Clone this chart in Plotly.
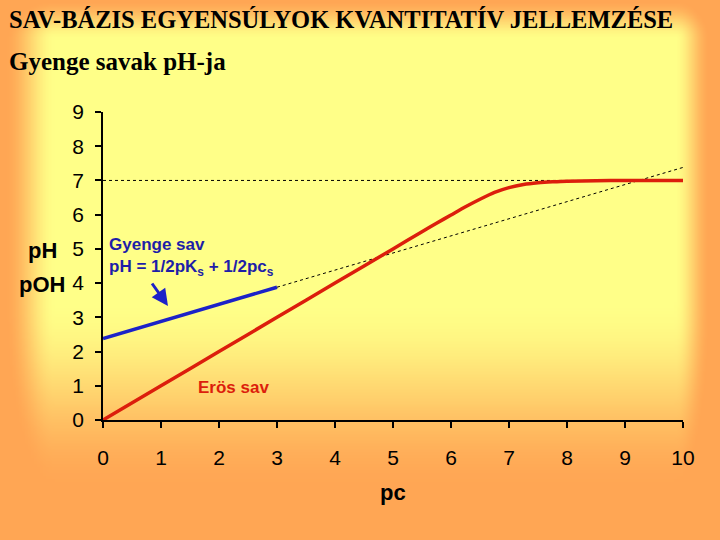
import base64, struct, zlib, math
import plotly.graph_objects as go

# ---------------- data ----------------
pc_strong = [0, 1, 2, 3, 4, 5, 5.5, 5.75, 6, 6.25, 6.5, 6.75, 7, 7.25, 7.5, 7.75, 8, 8.5, 9, 9.5, 10]
ph_strong = [0, 1, 2, 3, 4, 5, 5.5, 5.75, 5.99, 6.23, 6.45, 6.65, 6.79, 6.88, 6.93, 6.96, 6.98, 6.99, 7.0, 7.0, 7.0]

pc_weak = [0, 3]
ph_weak = [2.38, 3.88]

pc_weak_ext = [3, 10]
ph_weak_ext = [3.88, 7.38]

pc_neutral = [0, 10]
ph_neutral = [7, 7]

x_ticks = list(range(0, 11))
y_ticks = list(range(0, 10))

# ---------------- geometry helpers ----------------
W, H = 720, 540
L, R, T, B = 103, 37, 112, 120
PW, PH = W - L - R, H - T - B


def px(xp):
    return (xp - L) / PW


def py(yp):
    return (H - B - yp) / PH


# ---------------- background gradient (PNG data URI) ----------------
def make_bg(w=240, h=180):
    yel = (255, 255, 136)
    ora = (255, 166, 84)
    rows = []
    for j in range(h):
        Y = (j + 0.5) * H / h
        row = bytearray([0])
        for i in range(w):
            X = (i + 0.5) * W / w
            dl = max(0.0, (55 - X) / 50)
            dr = max(0.0, (X - 675) / 35)
            dt = max(0.0, (40 - Y) / 40)
            db = max(0.0, (Y - 300) / 190)
            t = min(1.0, math.sqrt(dl * dl + dr * dr + dt * dt + db * db))
            t = t * t * (3 - 2 * t)
            row += bytes(int(round(yel[k] + (ora[k] - yel[k]) * t)) for k in range(3))
        rows.append(bytes(row))
    raw = b"".join(rows)

    def chunk(tag, data):
        c = struct.pack(">I", len(data)) + tag + data
        return c + struct.pack(">I", zlib.crc32(tag + data) & 0xFFFFFFFF)

    png = b"\x89PNG\r\n\x1a\n"
    png += chunk(b"IHDR", struct.pack(">IIBBBBB", w, h, 8, 2, 0, 0, 0))
    png += chunk(b"IDAT", zlib.compress(raw, 9))
    png += chunk(b"IEND", b"")
    return "data:image/png;base64," + base64.b64encode(png).decode()


RED = "#DC1E0C"
BLUE = "#1C22C8"
BLUE_TXT = "#1E1EA8"
SANS = "Liberation Sans, Arial, sans-serif"
SERIF = "Liberation Serif, Times New Roman, serif"

fig = go.Figure()

fig.add_trace(go.Scatter(x=pc_neutral, y=ph_neutral, mode="lines",
                         line=dict(color="black", width=1, dash="dot"),
                         hoverinfo="skip", showlegend=False))
fig.add_trace(go.Scatter(x=pc_weak_ext, y=ph_weak_ext, mode="lines",
                         line=dict(color="black", width=1, dash="dot"),
                         hoverinfo="skip", showlegend=False))
fig.add_trace(go.Scatter(x=pc_weak, y=ph_weak, mode="lines",
                         line=dict(color=BLUE, width=3.5),
                         showlegend=False, cliponaxis=False))
fig.add_trace(go.Scatter(x=pc_strong, y=ph_strong, mode="lines",
                         line=dict(color=RED, width=3.5, shape="spline", smoothing=0.5),
                         showlegend=False, cliponaxis=False))

annotations = [
    dict(text="<b>SAV-BÁZIS EGYENSÚLYOK KVANTITATÍV JELLEMZÉSE</b>",
         x=px(7), y=py(19), xref="paper", yref="paper", xanchor="left", yanchor="middle",
         showarrow=False, font=dict(family=SERIF, size=24.5, color="black")),
    dict(text="<b>Gyenge savak pH-ja</b>",
         x=px(7), y=py(61), xref="paper", yref="paper", xanchor="left", yanchor="middle",
         showarrow=False, font=dict(family=SERIF, size=25, color="black")),
    dict(text="<b>pH</b>", x=px(42), y=py(250), xref="paper", yref="paper",
         xanchor="center", yanchor="middle", showarrow=False,
         font=dict(family=SANS, size=22, color="black")),
    dict(text="<b>pOH</b>", x=px(42), y=py(284), xref="paper", yref="paper",
         xanchor="center", yanchor="middle", showarrow=False,
         font=dict(family=SANS, size=22, color="black")),
    dict(text="<b>pc</b>", x=px(393), y=py(493), xref="paper", yref="paper",
         xanchor="center", yanchor="middle", showarrow=False,
         font=dict(family=SANS, size=22, color="black")),
    dict(text="<b>Gyenge sav</b>", x=px(107), y=py(244), xref="paper", yref="paper",
         xanchor="left", yanchor="middle", showarrow=False,
         font=dict(family=SANS, size=17, color=BLUE_TXT)),
    dict(text="<b>pH = 1/2pK<sub>s</sub> + 1/2pc<sub>s</sub></b>", x=px(107), y=py(268),
         xref="paper", yref="paper", xanchor="left", yanchor="middle", showarrow=False,
         font=dict(family=SANS, size=17, color=BLUE_TXT)),
    dict(text="<b>Erös sav</b>", x=px(196), y=py(387), xref="paper", yref="paper",
         xanchor="left", yanchor="middle", showarrow=False,
         font=dict(family=SANS, size=17, color=RED)),
    dict(text="", x=px(168), y=py(306), xref="paper", yref="paper",
         ax=-17, ay=-24, axref="pixel", ayref="pixel", showarrow=True,
         arrowhead=2, arrowsize=1.1, arrowwidth=3, arrowcolor=BLUE),
]

fig.update_layout(
    width=W, height=H,
    margin=dict(l=L, r=R, t=T, b=B, pad=0),
    paper_bgcolor="#FFC070",
    plot_bgcolor="rgba(0,0,0,0)",
    showlegend=False,
    annotations=annotations,
    images=[dict(source=make_bg(), xref="paper", yref="paper",
                 x=px(0), y=py(0), sizex=W / PW, sizey=H / PH,
                 xanchor="left", yanchor="top", sizing="stretch", layer="below")],
    xaxis=dict(range=[0, 10], tickvals=x_ticks, ticktext=[str(v) for v in x_ticks],
               showgrid=False, zeroline=False, showline=True, linecolor="black", linewidth=2,
               ticks="outside", ticklen=6, tickwidth=2, tickcolor="black",
               tickfont=dict(family=SANS, size=21, color="black"), ticklabelstandoff=12,
               fixedrange=True),
    yaxis=dict(range=[0, 9], tickvals=y_ticks, ticktext=[str(v) for v in y_ticks],
               showgrid=False, zeroline=False, showline=True, linecolor="black", linewidth=1.5,
               ticks="outside", ticklen=6, tickwidth=2, tickcolor="black",
               tickfont=dict(family=SANS, size=21, color="black"), ticklabelstandoff=7,
               fixedrange=True),
)

fig.write_html("out.html", config={"displayModeBar": False},
               post_script="document.body.style.margin='0';")
